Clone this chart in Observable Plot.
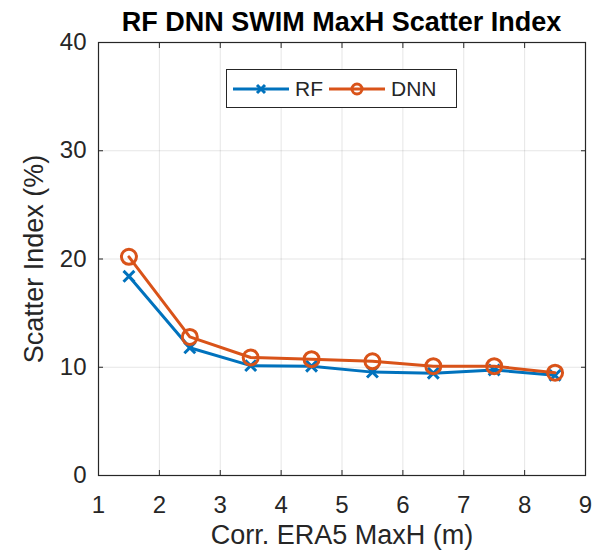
<!DOCTYPE html>
<html>
<head>
<meta charset="utf-8">
<script src="https://cdn.jsdelivr.net/npm/d3@7"></script>
<script src="https://cdn.jsdelivr.net/npm/@observablehq/plot@0.6"></script>
<style>
  body { margin: 0; background: #fff; font-family: "Liberation Sans", Arial, sans-serif; }
  #wrap { position: relative; width: 597px; height: 553px; }
  #title { position: absolute; left: 98px; width: 487px; top: 9px; line-height: 27px; text-align: center; font-weight: bold; font-size: 27px; color: #000; white-space: nowrap; }
  #legend { position: absolute; left: 226px; top: 69px; width: 231px; height: 39px; border: 1px solid #262626; background: #fff; box-sizing: border-box; display: flex; align-items: center; font-size: 21px; color: #262626; }
  #legend .item { display: flex; align-items: center; margin-left: 6px; }
  #legend svg { margin-right: 6px; }
</style>
</head>
<body>
<div id="wrap">
  <div id="title">RF DNN SWIM MaxH Scatter Index</div>
  <div id="chart"></div>
  <div id="legend"></div>
</div>
<script>
const xValues = [1.5, 2.5, 3.5, 4.5, 5.5, 6.5, 7.5, 8.5];
const rfValues = [18.4, 11.8, 10.15, 10.1, 9.55, 9.45, 9.75, 9.25];
const dnnValues = [20.2, 12.8, 10.9, 10.75, 10.55, 10.1, 10.1, 9.5];
const xTicks = [1, 2, 3, 4, 5, 6, 7, 8, 9];
const yTicks = [0, 10, 20, 30, 40];
const seriesNames = ["RF", "DNN"];
const seriesColors = ["#0072BD", "#D95319"];

const rf = xValues.map((x, i) => ({x, y: rfValues[i]}));
const dnn = xValues.map((x, i) => ({x, y: dnnValues[i]}));

const axisColor = "#262626";
const chart = Plot.plot({
  width: 597,
  height: 553,
  marginLeft: 98,
  marginRight: 12,
  marginTop: 42,
  marginBottom: 78,
  style: { fontFamily: "Liberation Sans, Arial, sans-serif", fontSize: "24px", color: axisColor, background: "#fff" },
  x: { domain: [1, 9], ticks: xTicks },
  y: { domain: [0, 40], ticks: yTicks },
  marks: [
    Plot.gridX(xTicks, { stroke: "#000", strokeOpacity: 0.1, strokeWidth: 1 }),
    Plot.gridY(yTicks, { stroke: "#000", strokeOpacity: 0.1, strokeWidth: 1 }),
    Plot.frame({ stroke: axisColor, strokeWidth: 1.2 }),
    Plot.axisX(xTicks, { anchor: "bottom", tickSize: -5, tickPadding: 25, fontSize: 24, label: null, stroke: axisColor }),
    Plot.axisX(xTicks, { anchor: "top", tickSize: -5, tickFormat: () => "", label: null, stroke: axisColor }),
    Plot.axisY(yTicks, { anchor: "left", tickSize: -5, tickPadding: 17, fontSize: 24, label: null, stroke: axisColor }),
    Plot.axisY(yTicks, { anchor: "right", tickSize: -5, tickFormat: () => "", label: null, stroke: axisColor }),
    Plot.text(["Corr. ERA5 MaxH (m)"], { frameAnchor: "bottom", textAnchor: "middle", dy: 68, fontSize: 27, fill: axisColor }),
    Plot.text(["Scatter Index (%)"], { frameAnchor: "left", textAnchor: "middle", dx: -64, rotate: -90, fontSize: 27, fill: axisColor }),
    Plot.line(rf, { x: "x", y: "y", stroke: seriesColors[0], strokeWidth: 3 }),
    Plot.dot(rf, { x: "x", y: "y", symbol: "times", r: 5, stroke: seriesColors[0], strokeWidth: 3 }),
    Plot.line(dnn, { x: "x", y: "y", stroke: seriesColors[1], strokeWidth: 3 }),
    Plot.dot(dnn, { x: "x", y: "y", symbol: "circle", r: 7.5, stroke: seriesColors[1], strokeWidth: 3, fill: "none" })
  ]
});
document.getElementById("chart").appendChild(chart);

// legend
const legend = document.getElementById("legend");
seriesNames.forEach((name, i) => {
  const item = document.createElement("div");
  item.className = "item";
  const sym = i === 0
    ? `<path d="M-4,-4L4,4M-4,4L4,-4" stroke="${seriesColors[i]}" stroke-width="3" fill="none"/>`
    : `<circle r="5" stroke="${seriesColors[i]}" stroke-width="3" fill="none"/>`;
  item.innerHTML = `<svg width="56" height="20" viewBox="-28 -10 56 20"><line x1="-28" x2="28" stroke="${seriesColors[i]}" stroke-width="3"/>${sym}</svg><span>${name}</span>`;
  legend.appendChild(item);
});
</script>
</body>
</html>
